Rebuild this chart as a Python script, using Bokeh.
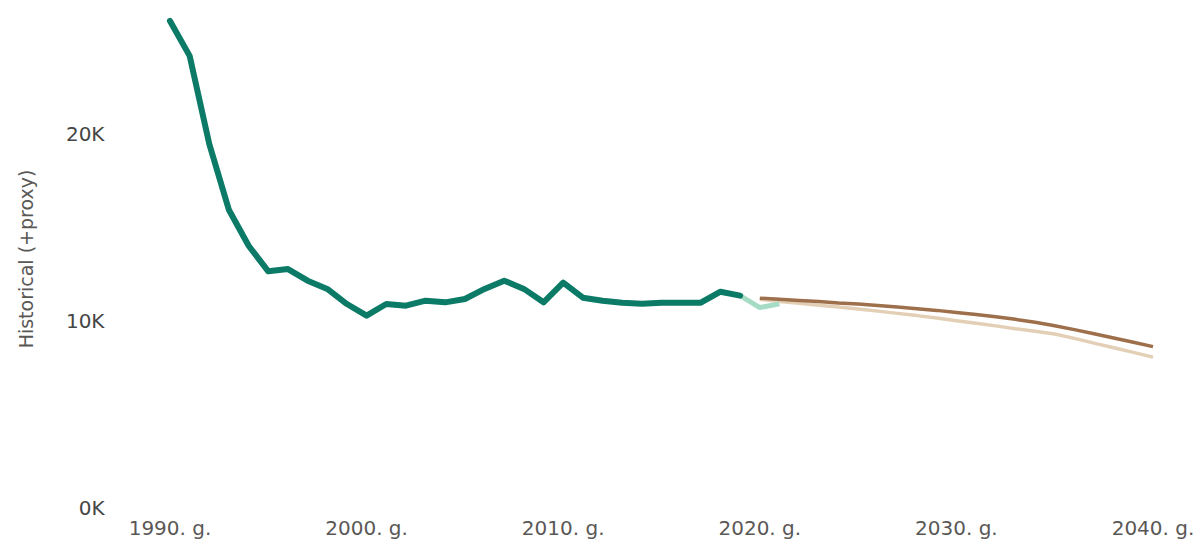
from bokeh.plotting import figure
from bokeh.models import FixedTicker, Range1d
from bokeh.embed import file_html
from bokeh.resources import INLINE

# ---- data ----
hist_years = list(range(1990, 2020))
hist_values = [26040, 24170, 19450, 15920, 14010, 12640, 12760, 12140, 11700, 10890,
               10270, 10890, 10800, 11070, 10980, 11160, 11700, 12140, 11700, 10980,
               12030, 11230, 11070, 10960, 10900, 10960, 10960, 10960, 11550, 11340]

proxy_years = [2019, 2020, 2021]
proxy_values = [11340, 10700, 10900]

fc_years = list(range(2020, 2041))
fc_main = [11200, 11140, 11080, 11020, 10950, 10890, 10810, 10730, 10640, 10550,
           10440, 10330, 10210, 10070, 9910, 9730, 9520, 9300, 9070, 8840, 8610]
fc_low = [11150, 11020, 10930, 10830, 10730, 10620, 10510, 10390, 10270, 10140,
          10000, 9860, 9720, 9570, 9430, 9290, 9050, 8800, 8550, 8300, 8050]

x_ticks = [1990, 2000, 2010, 2020, 2030, 2040]
x_labels = ["1990. g.", "2000. g.", "2010. g.", "2020. g.", "2030. g.", "2040. g."]
y_ticks = [0, 10000, 20000]
y_labels = ["0K", "10K", "20K"]
y_title = "Historical (+proxy)"

# ---- figure ----
p = figure(width=1195, height=545, output_backend="svg", toolbar_location=None,
           x_range=Range1d(1988.5, 2041.5), y_range=Range1d(0, 26600),
           min_border_left=140, min_border_right=13, min_border_top=10,
           min_border_bottom=38)
p.outline_line_color = None
p.grid.visible = False

font = "DejaVu Sans"
for ax in (p.xaxis, p.yaxis):
    ax.axis_line_color = None
    ax.major_tick_line_color = None
    ax.minor_tick_line_color = None
    ax.major_tick_out = 0
    ax.major_label_text_font = font
    ax.major_label_text_font_size = "20px"
    ax.major_label_text_color = "#5A5856"

p.xaxis.ticker = FixedTicker(ticks=x_ticks)
p.xaxis.major_label_overrides = dict(zip(x_ticks, x_labels))
p.xaxis.major_label_standoff = 8

p.yaxis.ticker = FixedTicker(ticks=y_ticks)
p.yaxis.major_label_overrides = dict(zip(y_ticks, y_labels))
p.yaxis.major_label_standoff = 36
p.yaxis.major_label_text_color = "#454545"
p.yaxis.axis_label = y_title
p.yaxis.axis_label_text_font = font
p.yaxis.axis_label_text_font_size = "19px"
p.yaxis.axis_label_text_font_style = "normal"
p.yaxis.axis_label_text_color = "#5A5856"
p.yaxis.axis_label_standoff = 26

p.line(fc_years, fc_low, line_color="#E3CFB6", line_width=3.5)
p.line(fc_years, fc_main, line_color="#9E6F4B", line_width=3.5)
p.line(proxy_years, proxy_values, line_color="#A6DCC6", line_width=5)
p.line(hist_years, hist_values, line_color="#0B7A66", line_width=6,
       line_join="round", line_cap="round")

open("out.html", "w").write(file_html(p, INLINE))
